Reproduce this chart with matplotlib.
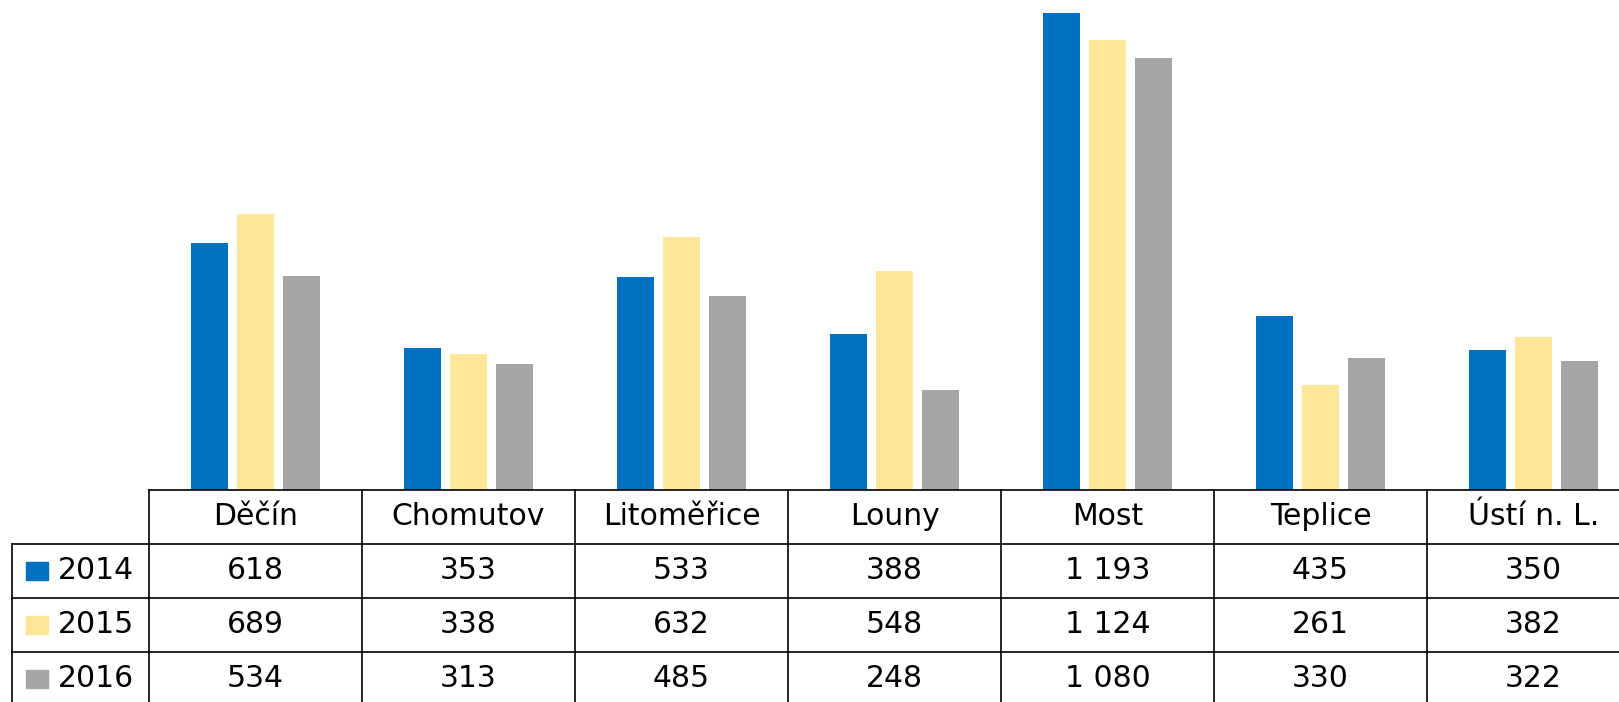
import numpy as np
import matplotlib.pyplot as plt
import matplotlib.transforms as mtransforms
from matplotlib.patches import Rectangle

plt.rcParams['font.family'] = ['DejaVu Sans']

# data
okresy = ['Děčín', 'Chomutov', 'Litoměřice', 'Louny', 'Most', 'Teplice', 'Ústí n. L.']
roky = ['2014', '2015', '2016']
v2014 = [618, 353, 533, 388, 1193, 435, 350]
v2015 = [689, 338, 632, 548, 1124, 261, 382]
v2016 = [534, 313, 485, 248, 1080, 330, 322]
barvy = ['#0070C0', '#FFE699', '#A5A5A5']


def fmt(v):
    return f'{v:,}'.replace(',', ' ')


W, H = 1619, 702
left, colw, base = 149.0, 213.0, 489.5
n = len(okresy)
fig = plt.figure(figsize=(W / 100, H / 100), dpi=100)
ax = fig.add_axes([left / W, 1 - base / H, n * colw / W, base / H])

x = np.arange(n)
serie = [v2014, v2015, v2016]
for i, (vals, c) in enumerate(zip(serie, barvy)):
    ax.bar(x + (i - 1) * 0.218, vals, width=0.174, color=c)
ax.set_xlim(-0.5, n - 0.5)
ax.set_ylim(0, 1225)
ax.axis('off')

# data table below the bars (x in data units, y in axes units)
tr = mtransforms.blended_transform_factory(ax.transData, ax.transAxes)
rh = 54.0 / base
lab_left = -0.5 - (left - 12.3) / colw
lc, lw = 'black', 1.2
fs = 21.5

ax.plot([-0.5, n - 0.5], [0, 0], color=lc, lw=lw, transform=tr, clip_on=False)
for r in range(1, 5):
    ax.plot([lab_left, n - 0.5], [-r * rh, -r * rh], color=lc, lw=lw,
            transform=tr, clip_on=False)
ax.plot([lab_left, lab_left], [-rh, -4 * rh], color=lc, lw=lw, transform=tr, clip_on=False)
for k in range(n + 1):
    ax.plot([k - 0.5, k - 0.5], [0, -4 * rh], color=lc, lw=lw, transform=tr, clip_on=False)

for j, name in enumerate(okresy):
    ax.text(j, -0.5 * rh, name, transform=tr, ha='center', va='center', fontsize=fs)
for r, (rok, vals, c) in enumerate(zip(roky, serie, barvy)):
    yc = -(r + 1.5) * rh
    for j, v in enumerate(vals):
        ax.text(j, yc, fmt(v), transform=tr, ha='center', va='center', fontsize=fs)
    sq_w, sq_h = 22 / (n * colw), 18 / base
    ax.add_patch(Rectangle(((26 - left) / (n * colw), yc - sq_h / 2), sq_w, sq_h,
                           transform=ax.transAxes, color=c, clip_on=False))
    ax.text((58 - left) / (n * colw), yc, rok, transform=ax.transAxes,
            ha='left', va='center', fontsize=fs)

fig.savefig('out.png', dpi=100)
